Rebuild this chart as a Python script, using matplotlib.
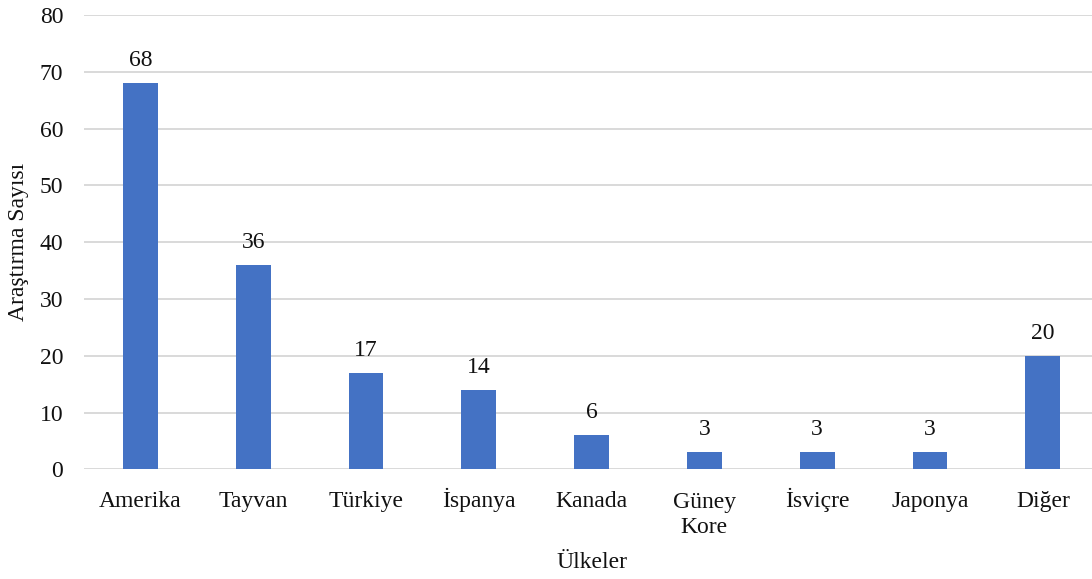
import matplotlib
matplotlib.use("Agg")
import matplotlib.pyplot as plt
from matplotlib.transforms import offset_copy

# Research counts by country
countries = ["Amerika", "Tayvan", "Türkiye", "İspanya", "Kanada",
             "Güney\nKore", "İsviçre", "Japonya", "Diğer"]
counts = [68, 36, 17, 14, 6, 3, 3, 3, 20]
y_ticks = [0, 10, 20, 30, 40, 50, 60, 70, 80]

plt.rcParams["font.family"] = ["Liberation Serif", "DejaVu Serif"]
TXT = "#111111"

W, H = 1092, 579
fig = plt.figure(figsize=(W / 100, H / 100), dpi=100)
left_px, right_px = 84, 1092
bottom_px, top_px = 469.3, 15
ax = fig.add_axes([left_px / W, 1 - bottom_px / H,
                   (right_px - left_px) / W, (bottom_px - top_px) / H])

x = list(range(len(countries)))
ax.bar(x, counts, width=0.31, color="#4472C4", zorder=3)

for xi, v in zip(x, counts):
    ax.annotate(str(v), (xi, v), xytext=(0, 12.2), textcoords="offset points",
                ha="center", va="baseline", fontsize=17, color=TXT)

span = 112.8
ax.set_xlim(-0.5, -0.5 + (right_px - left_px) / span)
ax.set_ylim(0, 80)
ax.set_yticks(y_ticks)
ax.set_xticks(x)
ax.set_xticklabels([])
ax.tick_params(axis="y", labelsize=17, length=0, pad=15, labelcolor=TXT)
ax.tick_params(axis="x", length=0)

# Category names, aligned on the baseline of their last line
first_baseline = 37.4   # px below the axis
line_gap = 26.3
for xi, name in zip(x, countries):
    n_extra = name.count("\n")
    tr = offset_copy(ax.get_xaxis_transform(), fig=fig,
                     y=-(first_baseline + n_extra * line_gap), units="dots")
    ax.text(xi, 0, name, transform=tr, ha="center", va="baseline",
            fontsize=17, color=TXT, linespacing=1.25, multialignment="center")

ax.grid(axis="y", color="#D9D9D9", linewidth=1.4, zorder=0)
for s in ax.spines.values():
    s.set_visible(False)

ax.set_ylabel("Araştırma Sayısı", fontsize=17, color=TXT)
ax.yaxis.set_label_coords(-(84 - 19) / (right_px - left_px), 0.5)
ax.set_xlabel("Ülkeler", fontsize=17, color=TXT)
ax.xaxis.set_label_coords(0.5 * (1099 - left_px) / (right_px - left_px),
                          -(563 - bottom_px) / (bottom_px - top_px))
ax.xaxis.label.set_va("center")
ax.yaxis.label.set_va("center")

fig.savefig("out.png", dpi=100)
